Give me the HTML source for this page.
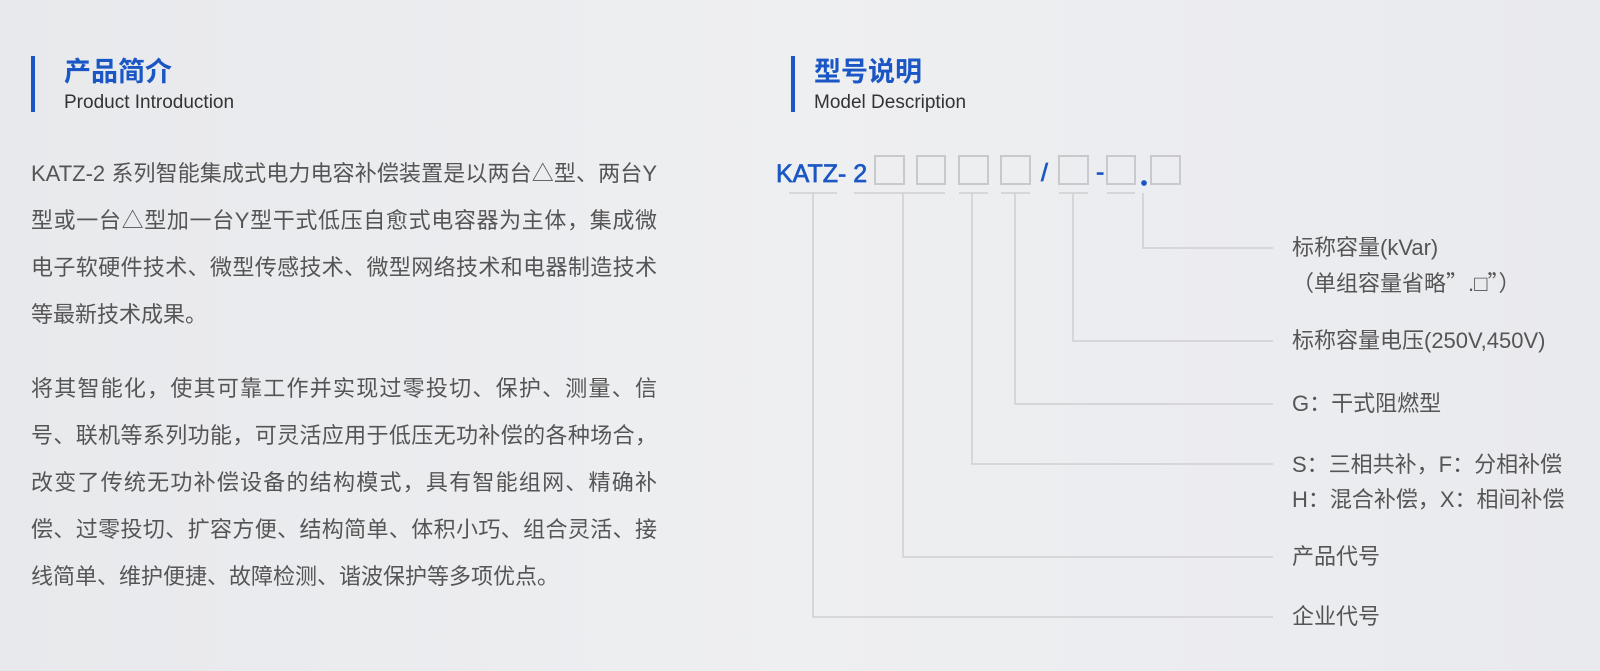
<!DOCTYPE html>
<html><head><meta charset="utf-8"><style>
*{margin:0;padding:0;box-sizing:border-box}
body{width:1600px;height:671px;overflow:hidden;background:linear-gradient(90deg,#e8e9ec 0%,#eeeff1 50%,#e9eaee 100%);font-family:"Liberation Sans","Noto Sans CJK SC",sans-serif;position:relative;color:#555}
.bar{position:absolute;width:4px;height:56px;background:#1a56c4;top:56px}
.t{position:absolute;top:56px;font-size:27px;font-weight:bold;color:#1a56c4;line-height:32px}
.s{position:absolute;top:92px;font-size:19px;color:#333;line-height:22px}
.p{position:absolute;left:31px;width:626px;font-size:22px;line-height:47px;color:#555}
.p div{height:47px;white-space:nowrap;text-align:justify;text-align-last:justify}
.p div.l{text-align-last:left}
.lab{position:absolute;left:1292px;font-size:22px;color:#555;line-height:35px;white-space:nowrap}
.cj{font-family:"Noto Sans CJK SC",sans-serif}
</style></head><body>
<div class="bar" style="left:31px"></div>
<div class="t" style="left:64px">产品简介</div>
<div class="s" style="left:64px">Product Introduction</div>
<div class="bar" style="left:791px"></div>
<div class="t" style="left:814px">型号说明</div>
<div class="s" style="left:814px">Model Description</div>

<div class="p" style="top:150px">
<div>KATZ-2 系列智能集成式电力电容补偿装置是以两台△型、两台Y</div>
<div>型或一台△型加一台Y型干式低压自愈式电容器为主体，集成微</div>
<div>电子软硬件技术、微型传感技术、微型网络技术和电器制造技术</div>
<div class="l">等最新技术成果。</div>
</div>
<div class="p" style="top:365px">
<div>将其智能化，使其可靠工作并实现过零投切、保护、测量、信</div>
<div>号、联机等系列功能，可灵活应用于低压无功补偿的各种场合，</div>
<div>改变了传统无功补偿设备的结构模式，具有智能组网、精确补</div>
<div>偿、过零投切、扩容方便、结构简单、体积小巧、组合灵活、接</div>
<div class="l">线简单、维护便捷、故障检测、谐波保护等多项优点。</div>
</div>

<svg style="position:absolute;left:0;top:0" width="1600" height="671">
<g font-family="Liberation Sans, Noto Sans CJK SC, sans-serif" fill="#1a56c4" stroke="#1a56c4" stroke-width="0.7" font-size="25">
<text x="776" y="182">KATZ- 2</text>
<text x="1041" y="181">/</text>
<text x="1096" y="180">-</text>
<circle cx="1144" cy="183" r="2.5"/>
</g>
<g fill="none" stroke="#c9c9cb" stroke-width="2">
<rect x="875" y="156" width="29" height="28"/>
<rect x="917" y="156" width="28" height="28"/>
<rect x="959" y="156" width="29" height="28"/>
<rect x="1001" y="156" width="29" height="28"/>
<rect x="1059" y="156" width="29" height="28"/>
<rect x="1107" y="156" width="28" height="28"/>
<rect x="1151" y="156" width="29" height="28"/>
</g>
<g fill="none" stroke="#cfcfd1" stroke-width="1.5">
<path d="M789 193H837M854 193H945M959 193H988M1001 193H1030M1059 193H1088M1107 193H1135"/>
<path d="M1143 193V248H1273"/>
<path d="M1073 193V341H1273"/>
<path d="M1015 193V404H1273"/>
<path d="M972 193V464H1273"/>
<path d="M903 193V557H1273"/>
<path d="M813 193V617H1273"/>
</g>
</svg>

<div class="lab" style="top:230px">标称容量(kVar)<br>（单组容量省略<span class="cj">”</span>.□<span class="cj">”</span>）</div>
<div class="lab" style="top:323px">标称容量电压(250V,450V)</div>
<div class="lab" style="top:386px">G：干式阻燃型</div>
<div class="lab" style="top:447px">S：三相共补，F：分相补偿<br>H：混合补偿，X：相间补偿</div>
<div class="lab" style="top:539px">产品代号</div>
<div class="lab" style="top:599px">企业代号</div>
</body></html>
